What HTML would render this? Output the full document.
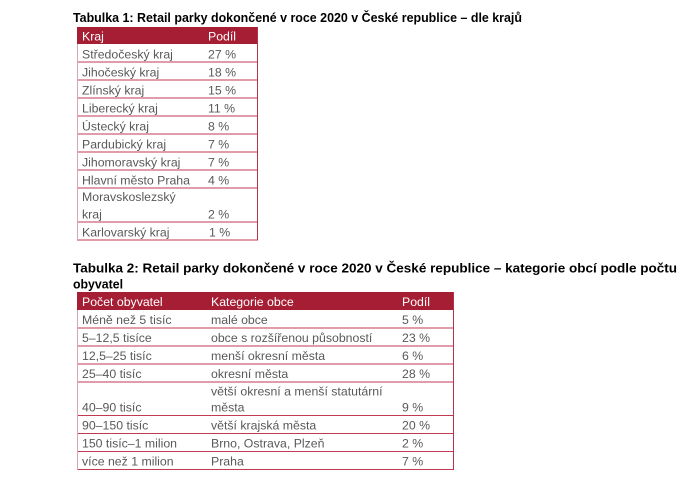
<!DOCTYPE html>
<html>
<head>
<meta charset="utf-8">
<style>
  html,body{margin:0;padding:0;background:#ffffff;}
  svg{display:block;}
  .t{font-family:"Liberation Sans",Arial,sans-serif;font-size:12.3px;fill:#595959;}
  .h{font-family:"Liberation Sans",Arial,sans-serif;font-size:12.3px;fill:#ffffff;}
  .ti{font-family:"Liberation Sans",Arial,sans-serif;font-size:12.5px;font-weight:bold;fill:#000000;}
</style>
</head>
<body>
<svg width="700" height="478" viewBox="0 0 700 478" xmlns="http://www.w3.org/2000/svg" shape-rendering="crispEdges">
  <rect x="0" y="0" width="700" height="478" fill="#ffffff"/>

  <!-- ========== TABLE 1 ========== -->
  <text class="ti" x="73" y="22" textLength="449" lengthAdjust="spacingAndGlyphs">Tabulka 1: Retail parky dokončené v roce 2020 v České republice – dle krajů</text>

  <rect x="77" y="27" width="181" height="17" fill="#a61e34"/>
  <text class="h" x="82" y="40.5">Kraj</text>
  <text class="h" x="208" y="40.5">Podíl</text>

  <!-- horizontal lines -->
  <g fill="#c23a52">
    <rect x="77" y="61.5" width="181" height="1"/>
    <rect x="77" y="79.5" width="181" height="1"/>
    <rect x="77" y="97.5" width="181" height="1"/>
    <rect x="77" y="115.5" width="181" height="1"/>
    <rect x="77" y="133.5" width="181" height="1"/>
    <rect x="77" y="151.5" width="181" height="1"/>
    <rect x="77" y="169.5" width="181" height="1"/>
    <rect x="77" y="187.5" width="181" height="1"/>
    <rect x="77" y="221.5" width="181" height="1"/>
    <rect x="77" y="239.5" width="181" height="1"/>
  </g>
  <!-- side borders -->
  <rect x="77" y="44" width="1" height="196" fill="#dba3ae"/>
  <rect x="257" y="27" width="1" height="213" fill="#b8314a"/>

  <text class="t" x="82" y="58.5">Středočeský kraj</text><text class="t" x="208" y="58.5">27 %</text>
  <text class="t" x="82" y="76.5">Jihočeský kraj</text><text class="t" x="208" y="76.5">18 %</text>
  <text class="t" x="82" y="94.5">Zlínský kraj</text><text class="t" x="208" y="94.5">15 %</text>
  <text class="t" x="82" y="112.5">Liberecký kraj</text><text class="t" x="208" y="112.5">11 %</text>
  <text class="t" x="82" y="130.5">Ústecký kraj</text><text class="t" x="208" y="130.5">8 %</text>
  <text class="t" x="82" y="148.5">Pardubický kraj</text><text class="t" x="208" y="148.5">7 %</text>
  <text class="t" x="82" y="166.5">Jihomoravský kraj</text><text class="t" x="208" y="166.5">7 %</text>
  <text class="t" x="82" y="184.5">Hlavní město Praha</text><text class="t" x="208" y="184.5">4 %</text>
  <text class="t" x="82" y="201">Moravskoslezský</text>
  <text class="t" x="82" y="218.5">kraj</text><text class="t" x="208" y="218.5">2 %</text>
  <text class="t" x="82" y="236.5">Karlovarský kraj</text><text class="t" x="209" y="236.5">1 %</text>

  <!-- ========== TABLE 2 ========== -->
  <text class="ti" x="73" y="272.5" textLength="604" lengthAdjust="spacingAndGlyphs">Tabulka 2: Retail parky dokončené v roce 2020 v České republice – kategorie obcí podle počtu</text>
  <text class="ti" x="73" y="288.5" textLength="50" lengthAdjust="spacingAndGlyphs">obyvatel</text>

  <rect x="77" y="292" width="377" height="18" fill="#a61e34"/>
  <text class="h" x="82" y="306">Počet obyvatel</text>
  <text class="h" x="211" y="306">Kategorie obce</text>
  <text class="h" x="402" y="306">Podíl</text>

  <g fill="#c23a52">
    <rect x="77" y="327.5" width="377" height="1"/>
    <rect x="77" y="345.5" width="377" height="1"/>
    <rect x="77" y="363.5" width="377" height="1"/>
    <rect x="77" y="381.5" width="377" height="1"/>
    <rect x="77" y="415" width="377" height="1"/>
    <rect x="77" y="433" width="377" height="1"/>
    <rect x="77" y="451" width="377" height="1"/>
    <rect x="77" y="469" width="377" height="1"/>
  </g>
  <rect x="77" y="310" width="1" height="160" fill="#dba3ae"/>
  <rect x="453" y="292" width="1" height="178" fill="#b8314a"/>

  <text class="t" x="82" y="324">Méně než 5 tisíc</text><text class="t" x="211" y="324">malé obce</text><text class="t" x="402" y="324">5 %</text>
  <text class="t" x="82" y="342">5–12,5 tisíce</text><text class="t" x="211" y="342">obce s rozšířenou působností</text><text class="t" x="402" y="342">23 %</text>
  <text class="t" x="82" y="360">12,5–25 tisíc</text><text class="t" x="211" y="360">menší okresní města</text><text class="t" x="402" y="360">6 %</text>
  <text class="t" x="82" y="378">25–40 tisíc</text><text class="t" x="211" y="378">okresní města</text><text class="t" x="402" y="378">28 %</text>
  <text class="t" x="211" y="395.5">větší okresní a menší statutární</text>
  <text class="t" x="82" y="411.5">40–90 tisíc</text><text class="t" x="211" y="411.5">města</text><text class="t" x="402" y="411.5">9 %</text>
  <text class="t" x="82" y="429.5">90–150 tisíc</text><text class="t" x="211" y="429.5">větší krajská města</text><text class="t" x="402" y="429.5">20 %</text>
  <text class="t" x="82" y="447.5">150 tisíc–1 milion</text><text class="t" x="211" y="447.5">Brno, Ostrava, Plzeň</text><text class="t" x="402" y="447.5">2 %</text>
  <text class="t" x="82" y="465.5">více než 1 milion</text><text class="t" x="211" y="465.5">Praha</text><text class="t" x="402" y="465.5">7 %</text>
</svg>
</body>
</html>
